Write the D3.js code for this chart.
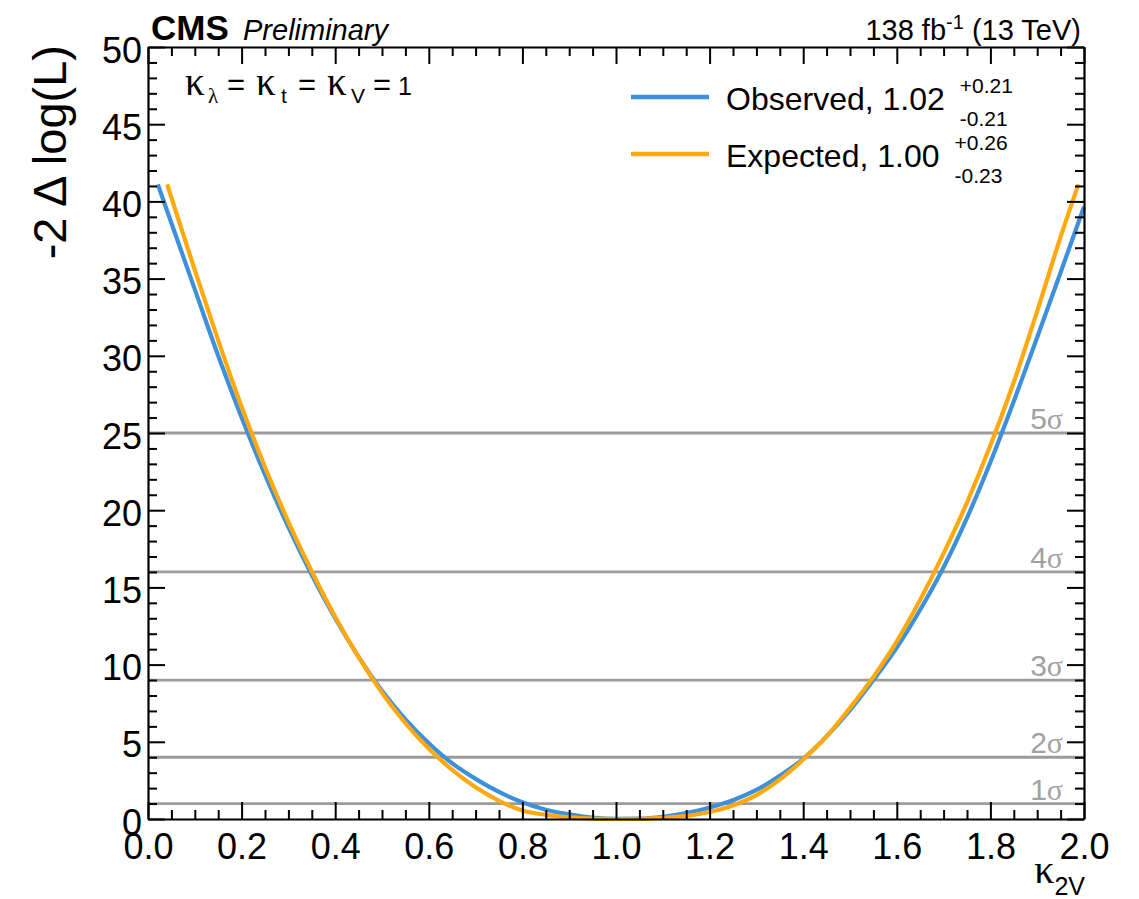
<!DOCTYPE html>
<html>
<head>
<meta charset="utf-8">
<script src="https://cdn.jsdelivr.net/npm/d3@7"></script>
<style>
  html, body { margin: 0; padding: 0; background: #fff; }
  svg { display: block; }
  text { font-family: "Liberation Sans", Arial, Helvetica, sans-serif; fill: #000; }
</style>
</head>
<body>
<svg id="chart" width="1139" height="899"></svg>
<script>
// Likelihood scan in kappa_2V (observed and expected), 138 fb^-1 at 13 TeV
const obsK   = [0.021, 0.05, 0.10, 0.15, 0.20, 0.25, 0.30, 0.35, 0.40, 0.45, 0.50, 0.55, 0.60, 0.65, 0.70, 0.75, 0.80, 0.85, 0.90, 0.95, 1.00, 1.05, 1.10, 1.15, 1.20, 1.25, 1.30, 1.35, 1.40, 1.45, 1.50, 1.55, 1.60, 1.65, 1.70, 1.75, 1.80, 1.85, 1.90, 1.95, 2.00];
const obsNll = [41.1, 38.6, 34.3, 30.0, 26.0, 22.3, 18.9, 15.8, 13.0, 10.5, 8.3, 6.45, 4.9, 3.6, 2.6, 1.75, 1.08, 0.6, 0.3, 0.09, 0.01, 0.02, 0.14, 0.38, 0.75, 1.22, 1.88, 2.8, 3.9, 5.35, 7.05, 9.0, 11.1, 13.55, 16.3, 19.5, 23.1, 27.05, 31.2, 35.4, 39.65];

const expK   = [0.041, 0.05, 0.10, 0.15, 0.20, 0.25, 0.30, 0.35, 0.40, 0.45, 0.50, 0.55, 0.60, 0.65, 0.70, 0.75, 0.80, 0.85, 0.90, 0.95, 1.00, 1.05, 1.10, 1.15, 1.20, 1.25, 1.30, 1.35, 1.40, 1.45, 1.50, 1.55, 1.60, 1.65, 1.70, 1.75, 1.80, 1.85, 1.90, 1.95, 1.988];
const expNll = [41.1, 40.25, 35.55, 31.0, 26.7, 22.8, 19.25, 16.03, 13.1, 10.48, 8.18, 6.2, 4.55, 3.18, 2.05, 1.18, 0.55, 0.27, 0.1, 0.02, 0.0, 0.01, 0.07, 0.2, 0.45, 0.88, 1.55, 2.55, 3.85, 5.35, 7.2, 9.2, 11.5, 14.2, 17.2, 20.5, 24.2, 28.3, 32.9, 37.7, 41.1];

// significance reference lines
const sigmaLevels = [1, 2, 3, 4, 5];

// legend entries
const seriesNames = ["Observed", "Expected"];
const bestFit     = [1.02, 1.00];
const errUp       = [0.21, 0.26];
const errDown     = [0.21, 0.23];
const seriesColors = ["#3f90da", "#ffa90e"];

// axis ticks
const xMajor = [0.0, 0.2, 0.4, 0.6, 0.8, 1.0, 1.2, 1.4, 1.6, 1.8, 2.0];
const yMajor = [0, 5, 10, 15, 20, 25, 30, 35, 40, 45, 50];

const svg = d3.select("#chart");
const frame = { left: 148, right: 1084, top: 47, bottom: 819 };
const serif = "'Liberation Serif', 'DejaVu Serif', serif";

const x = d3.scaleLinear().domain([0, 2]).range([frame.left, frame.right]);
const y = d3.scaleLinear().domain([0, 50]).range([frame.bottom, frame.top]);

const xMinor = d3.range(0, 2.0001, 0.05).map(v => +v.toFixed(2)).filter(v => !xMajor.some(m => Math.abs(m - v) < 1e-6));
const yMinor = d3.range(0, 50.001, 1).filter(v => v % 5 !== 0);

// sigma lines
const gSig = svg.append("g");
gSig.selectAll("line").data(sigmaLevels).join("line")
  .attr("x1", x(0)).attr("x2", x(2))
  .attr("y1", d => y(d * d)).attr("y2", d => y(d * d))
  .attr("stroke", "#9b9b9b").attr("stroke-width", 2.8);

const sigLabels = gSig.selectAll("text").data(sigmaLevels).join("text")
  .attr("x", x(2) - 21)
  .attr("y", d => y(d * d) - 4)
  .attr("text-anchor", "end")
  .style("font-size", "30px")
  .style("fill", "#a2a2a2");
sigLabels.append("tspan").text(d => d);
sigLabels.append("tspan").style("font-family", serif).style("fill", "#a2a2a2").text("σ");

// curves
const line = d3.line().x(d => x(d[0])).y(d => y(d[1])).curve(d3.curveMonotoneX);
const curves = [
  d3.zip(obsK, obsNll),
  d3.zip(expK, expNll)
];
svg.append("g").selectAll("path").data(curves).join("path")
  .attr("d", line)
  .attr("fill", "none")
  .attr("stroke", (d, i) => seriesColors[i])
  .attr("stroke-width", 4.2)
  .attr("stroke-linejoin", "round");

// frame and ticks
function styleAxis(g) {
  g.selectAll("path.domain").attr("stroke", "#000").attr("stroke-width", 2.2);
  g.selectAll(".tick line").attr("stroke", "#000").attr("stroke-width", 2);
}

// bottom
const gB = svg.append("g").attr("transform", `translate(0,${frame.bottom})`);
gB.call(d3.axisBottom(x).tickValues(xMajor).tickSize(-17).tickSizeOuter(0).tickFormat(d3.format(".1f")))
  .call(styleAxis);
gB.selectAll("text").attr("y", 40).attr("dy", null)
  .style("font-size", "36px").style("font-family", "'Liberation Sans', Arial, sans-serif").attr("fill", "#000");
svg.append("g").attr("transform", `translate(0,${frame.bottom})`)
  .call(d3.axisBottom(x).tickValues(xMinor).tickSize(-9).tickSizeOuter(0).tickFormat(""))
  .call(styleAxis).select("path.domain").remove();

// top
svg.append("g").attr("transform", `translate(0,${frame.top})`)
  .call(d3.axisTop(x).tickValues(xMajor).tickSize(-17).tickSizeOuter(0).tickFormat(""))
  .call(styleAxis);
svg.append("g").attr("transform", `translate(0,${frame.top})`)
  .call(d3.axisTop(x).tickValues(xMinor).tickSize(-9).tickSizeOuter(0).tickFormat(""))
  .call(styleAxis).select("path.domain").remove();

// left
const gL = svg.append("g").attr("transform", `translate(${frame.left},0)`);
gL.call(d3.axisLeft(y).tickValues(yMajor).tickSize(-17).tickSizeOuter(0).tickPadding(6))
  .call(styleAxis);
gL.selectAll("text").attr("x", -6).attr("dy", "0.42em")
  .style("font-size", "36px").style("font-family", "'Liberation Sans', Arial, sans-serif").attr("fill", "#000");
svg.append("g").attr("transform", `translate(${frame.left},0)`)
  .call(d3.axisLeft(y).tickValues(yMinor).tickSize(-9).tickSizeOuter(0).tickFormat(""))
  .call(styleAxis).select("path.domain").remove();

// right
svg.append("g").attr("transform", `translate(${frame.right},0)`)
  .call(d3.axisRight(y).tickValues(yMajor).tickSize(-17).tickSizeOuter(0).tickFormat(""))
  .call(styleAxis);
svg.append("g").attr("transform", `translate(${frame.right},0)`)
  .call(d3.axisRight(y).tickValues(yMinor).tickSize(-9).tickSizeOuter(0).tickFormat(""))
  .call(styleAxis).select("path.domain").remove();

// axis titles
svg.append("text")
  .attr("transform", `translate(66,${frame.top - 2}) rotate(-90)`)
  .attr("text-anchor", "end")
  .style("font-size", "47px")
  .text("-2 Δ log(L)");

const xt = svg.append("text")
  .attr("x", frame.right + 1).attr("y", 883)
  .attr("text-anchor", "end");
xt.append("tspan").style("font-family", serif).style("font-size", "40px").text("κ");
xt.append("tspan").attr("dy", 12).style("font-size", "25px").text("2V");

// header
svg.append("text").attr("x", 151).attr("y", 40)
  .style("font-size", "35px").style("font-weight", "bold").text("CMS");
svg.append("text").attr("x", 243).attr("y", 40)
  .style("font-size", "29px").style("font-style", "italic").text("Preliminary");

const lumi = svg.append("text").attr("x", frame.right - 3).attr("y", 40).attr("text-anchor", "end")
  .style("font-size", "29px");
lumi.append("tspan").text("138 fb");
lumi.append("tspan").attr("dy", -11).style("font-size", "20px").text("-1");
lumi.append("tspan").attr("dy", 11).text(" (13 TeV)");

// coupling assumption: kappa_lambda = kappa_t = kappa_V = 1
const kt = svg.append("g");
const ktBase = 95;
const kParts = [
  { t: "κ", x: 185, sub: false, serif: true },
  { t: "λ", x: 208, sub: true,  serif: true },
  { t: "=", x: 227, sub: false, serif: false },
  { t: "κ", x: 256, sub: false, serif: true },
  { t: "t", x: 281, sub: true,  serif: false },
  { t: "=", x: 298, sub: false, serif: false },
  { t: "κ", x: 327, sub: false, serif: true },
  { t: "V", x: 351, sub: true,  serif: false },
  { t: "=", x: 373, sub: false, serif: false },
  { t: "1", x: 398, sub: false, serif: false }
];
kt.selectAll("text").data(kParts).join("text")
  .attr("x", d => d.x)
  .attr("y", d => d.sub ? ktBase + 8 : ktBase)
  .style("font-family", d => d.serif ? serif : null)
  .style("font-size", d => d.sub ? "21px" : (d.serif ? "39px" : (d.t === "=" ? "31px" : "25px")))
  .text(d => d.t);

// legend
const legY = [97, 154];
const leg = svg.append("g");
seriesNames.forEach((name, i) => {
  leg.append("line")
    .attr("x1", 631).attr("x2", 709)
    .attr("y1", legY[i]).attr("y2", legY[i])
    .attr("stroke", seriesColors[i]).attr("stroke-width", 4.5);
  const t = leg.append("text").attr("x", 726).attr("y", legY[i] + 13)
    .style("font-size", "32px")
    .text(`${name}, ${bestFit[i].toFixed(2)}`);
  const w = t.node().getComputedTextLength();
  const ex = 726 + w + 15;
  leg.append("text").attr("x", ex).attr("y", legY[i] - 4)
    .style("font-size", "21px").text(`+${errUp[i].toFixed(2)}`);
  leg.append("text").attr("x", ex).attr("y", legY[i] + 29)
    .style("font-size", "21px").text(`-${errDown[i].toFixed(2)}`);
});
</script>
</body>
</html>
